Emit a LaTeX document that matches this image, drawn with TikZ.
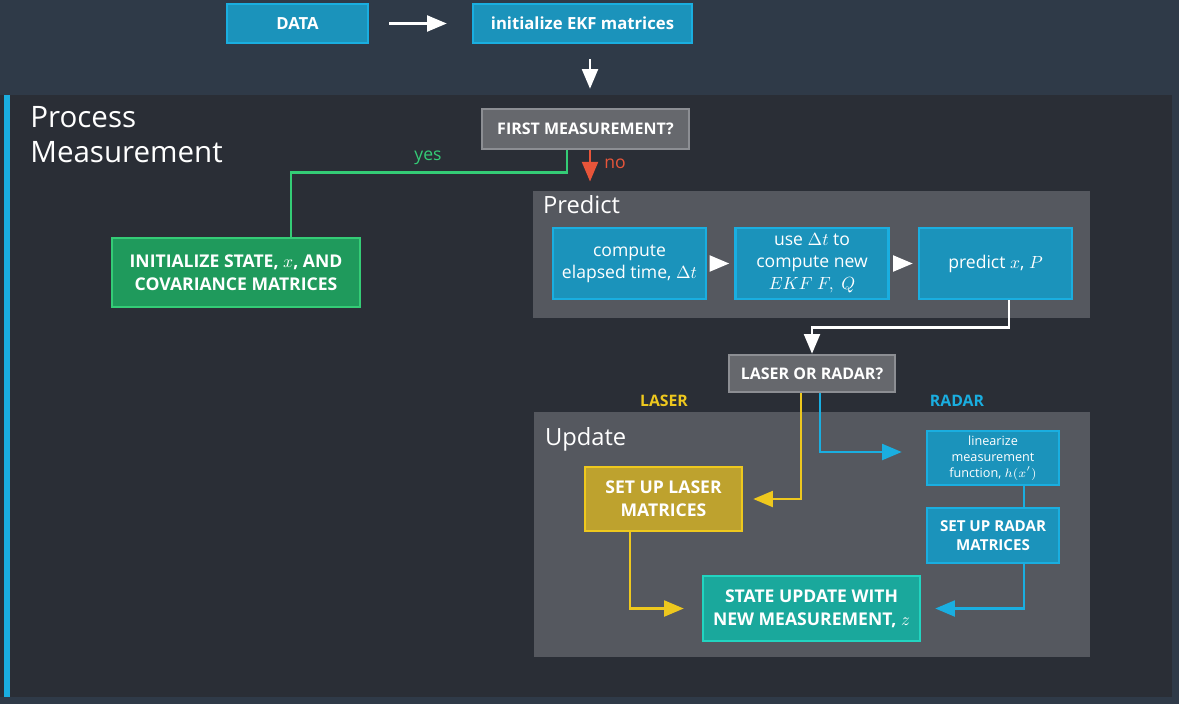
\documentclass[tikz,border=0pt]{standalone}
\usepackage{amsmath}
\usepackage{fontspec}
\setmainfont{Open Sans}
\usepackage{tikz}
\usetikzlibrary{arrows}

\definecolor{topbg}{HTML}{2F3A48}
\definecolor{darkbg}{HTML}{2A2E36}
\definecolor{panelbg}{HTML}{55585F}
\definecolor{boxblue}{HTML}{1B93BB}
\definecolor{edgeblue}{HTML}{1AAEE0}
\definecolor{boxgray}{HTML}{66686D}
\definecolor{edgegray}{HTML}{8C8E93}
\definecolor{boxgreen}{HTML}{1F9A5C}
\definecolor{edgegreen}{HTML}{34CC76}
\definecolor{boxyellow}{HTML}{BEA22E}
\definecolor{edgeyellow}{HTML}{EEC81E}
\definecolor{boxteal}{HTML}{1AA89C}
\definecolor{edgeteal}{HTML}{22D4C0}
\definecolor{noorange}{HTML}{E8553A}

\begin{document}
\begin{tikzpicture}[x=0.02cm,y=-0.02cm,>=triangle 45,
	box/.style={draw,line width=1.6pt,text=white,align=center,inner sep=2pt},
	bluebox/.style={box,fill=boxblue,draw=edgeblue,font=\fontsize{10}{12.5}\selectfont},
	graybox/.style={box,fill=boxgray,draw=edgegray,font=\bfseries\fontsize{9.1}{10}\selectfont},
	capsbox/.style={box,font=\bfseries\fontsize{10}{13}\selectfont},
	panel/.style={fill=panelbg,draw=none},
	wire/.style={line width=1.6pt},
	title/.style={anchor=north west,text=white,inner sep=0pt,align=left}]
\useasboundingbox (0,0) rectangle (1179,704);
\fill[topbg] (0,0) rectangle (1179,704);
\fill[darkbg] (0,95) rectangle (1172,697);
\fill[edgeblue] (4,95) rectangle (10,697);

\node[title,font=\fontsize{16.8}{19.8}\selectfont] (procname) at (30,106) {Process\\Measurement};

\node[bluebox,font=\bfseries\fontsize{9.5}{11}\selectfont,minimum width=2.82cm,minimum height=0.78cm] (data) at (297.5,23.5) {DATA};
\node[bluebox,font=\bfseries\fontsize{9.5}{11}\selectfont,minimum width=4.38cm,minimum height=0.78cm] (ekf) at (582.5,23.5) {initialize EKF matrices};
\node[graybox,minimum width=4.14cm,minimum height=0.8cm] (first) at (585.5,129) {FIRST MEASUREMENT?};
\node[capsbox,fill=boxgreen,draw=edgegreen,minimum width=4.96cm,minimum height=1.38cm] (init) at (236,272.5) {INITIALIZE STATE, $x$, AND\\COVARIANCE MATRICES};

\node[panel,minimum width=11.14cm,minimum height=2.54cm] (pred) at (811.5,254.5) {};
\node[title,font=\fontsize{13.5}{16}\selectfont] (predname) at ([shift={(0.2cm,-0.08cm)}]pred.north west) {Predict};
\node[bluebox,minimum width=3.06cm,minimum height=1.42cm] (dt) at (629.5,263.5) {compute\\elapsed time, $\Delta t$};
\node[bluebox,minimum width=3.06cm,minimum height=1.42cm] (fq) at (812,263.5) {use $\Delta t$ to\\compute new\\$EKF\ F,\ Q$};
\node[bluebox,minimum width=3.06cm,minimum height=1.42cm] (xp) at (995.5,263.5) {predict $x$, $P$};

\node[graybox,minimum width=3.32cm,minimum height=0.74cm] (lor) at (812,373.5) {LASER OR RADAR?};

\node[panel,minimum width=11.12cm,minimum height=4.9cm] (upd) at (812,534.5) {};
\node[title,font=\fontsize{13.5}{16}\selectfont] (updname) at ([shift={(0.22cm,-0.3cm)}]upd.north west) {Update};
\node[text=edgeyellow,font=\bfseries\fontsize{9}{11}\selectfont] (laserlbl) at (664,401) {LASER};
\node[text=edgeblue,font=\bfseries\fontsize{9}{11}\selectfont] (radarlbl) at (957,401) {RADAR};

\node[bluebox,font=\fontsize{7.2}{9}\selectfont,minimum width=2.64cm,minimum height=1.08cm] (lin) at (993,458) {linearize\\measurement\\function, $h(x')$};
\node[capsbox,fill=boxblue,draw=edgeblue,font=\bfseries\fontsize{8.6}{11}\selectfont,minimum width=2.64cm,minimum height=1.1cm] (radar) at (993,535.5) {SET UP RADAR\\MATRICES};
\node[capsbox,fill=boxyellow,draw=edgeyellow,minimum width=3.14cm,minimum height=1.28cm] (laser) at (663.5,499) {SET UP LASER\\MATRICES};
\node[capsbox,fill=boxteal,draw=edgeteal,minimum width=4.34cm,minimum height=1.3cm] (state) at (811.5,608.5) {STATE UPDATE WITH\\NEW MEASUREMENT, $z$};

\draw[wire,white,->,shorten <=0.4cm,shorten >=0.5cm] (data) -- (ekf);
\draw[wire,white,->,shorten <=0.3cm,shorten >=0.38cm] ([xshift=0.15cm]ekf.south) -- ([xshift=0.15cm]ekf.south |- first.north);
\draw[wire,edgegreen] ([xshift=-0.37cm]first.south) -- ++(0,22) -| ([xshift=1.1cm]init.north);
\node[text=edgegreen,font=\fontsize{10}{12}\selectfont] (yes) at (428,158) {yes};
\draw[wire,noorange,->] ([xshift=0.09cm]first.south) -- ++(0,31);
\node[text=noorange,font=\fontsize{10}{12}\selectfont] (no) at (615,164) {no};

\draw[wire,white,->,shorten <=0.08cm,shorten >=0.1cm] (dt) -- (fq);
\draw[wire,white,->,shorten <=0.08cm,shorten >=0.1cm] (fq) -- (xp);
\draw[wire,white,->] ([xshift=0.27cm]xp.south) -- ++(0,27) -| (lor.north);

\draw[wire,edgeyellow,->,shorten >=0.2cm] ([xshift=-0.22cm]lor.south) |- (laser.east);
\draw[wire,edgeblue,->,shorten >=0.48cm] ([xshift=0.16cm]lor.south) |- ([yshift=0.12cm]lin.west);
\draw[wire,edgeblue] ([xshift=0.62cm]lin.south) -- ([xshift=0.62cm]radar.north);
\draw[wire,edgeblue,->,shorten >=0.28cm] ([xshift=0.62cm]radar.south) |- (state.east);
\draw[wire,edgeyellow,->,shorten >=0.36cm] ([xshift=-0.67cm]laser.south) |- (state.west);
\end{tikzpicture}
\end{document}
